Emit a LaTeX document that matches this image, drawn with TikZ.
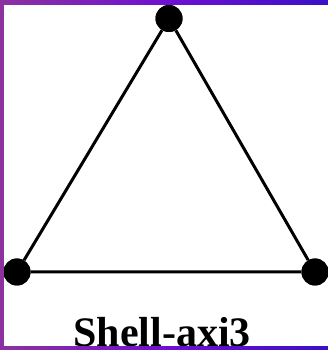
\documentclass[tikz,border=0pt]{standalone}
\usepackage{fontspec}
\setmainfont{Liberation Serif}
\definecolor{bleft}{HTML}{8B32A0}
\definecolor{bmid}{HTML}{7010D0}
\definecolor{bright}{HTML}{3A10C8}
\begin{document}
\begin{tikzpicture}[x=1pt,y=1pt,
  vtx/.style={circle,fill=black,inner sep=0pt,minimum size=27pt},
  edge/.style={line width=3pt,black},
  lbl/.style={font=\fontsize{42}{42}\selectfont\bfseries,inner sep=0pt,anchor=base}]
\useasboundingbox (0,0) rectangle (328,350);
\fill[white] (0,0) rectangle (328,350);
\node[vtx] (t) at (169,331.5) {};
\node[vtx] (l) at (17,78) {};
\node[vtx] (r) at (315,78) {};
\draw[edge] (t) -- (l) -- (r) -- (t);
\node[vtx] at (t) {};
\node[vtx] at (l) {};
\node[vtx] at (r) {};
\node[lbl] (cap) at (162,4) {Shell-axi3};
\shade[left color=bleft,right color=bright,middle color=bmid] (0,345) rectangle (328,350);
\shade[left color=bleft,right color=bright,middle color=bmid] (0,0) rectangle (328,3);
\fill[bleft] (0,0) rectangle (4,350);
\end{tikzpicture}
\end{document}
